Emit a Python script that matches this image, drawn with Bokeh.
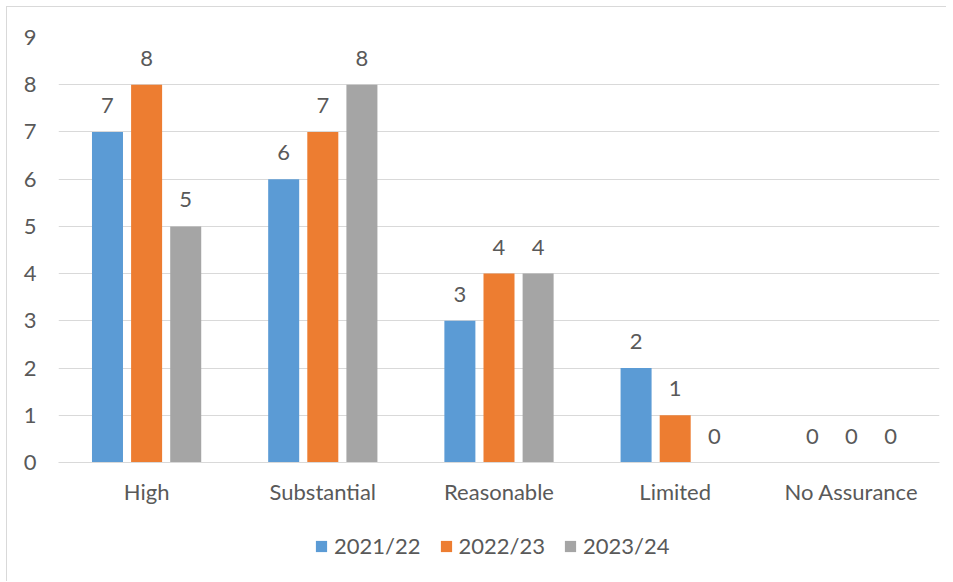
from bokeh.plotting import figure
from bokeh.models import ColumnDataSource, FactorRange, Legend, LegendItem, Range1d, FixedTicker
from bokeh.layouts import column
from bokeh.transform import dodge
from bokeh.core.properties import value
from bokeh.embed import file_html
from bokeh.resources import INLINE

categories = ["High", "Substantial", "Reasonable", "Limited", "No Assurance"]
series_names = ["2021/22", "2022/23", "2023/24"]
v2021 = [7, 6, 3, 2, 0]
v2022 = [8, 7, 4, 1, 0]
v2023 = [5, 8, 4, 0, 0]
y_ticks = [0, 1, 2, 3, 4, 5, 6, 7, 8, 9]

colors = ["#5B9BD5", "#ED7D31", "#A5A5A5"]
offsets = [-0.222, 0.0, 0.222]
FONT = "Lato"
TXT = "#595959"
FS = "22px"
BORDER = "1px solid #D9D9D9"

p = figure(x_range=FactorRange(*categories, range_padding=0), y_range=Range1d(0, 9),
           frame_width=880, frame_height=424,
           output_backend="svg", toolbar_location=None,
           min_border_left=51, min_border_top=30, min_border_right=8, min_border_bottom=50)
p.margin = (6, 0, 0, 6)
p.styles = {"border-left": BORDER, "border-top": BORDER}
p.outline_line_color = None
p.xgrid.grid_line_color = None
p.ygrid.grid_line_color = "#D9D9D9"
p.ygrid.grid_line_width = 1
p.yaxis.ticker = FixedTicker(ticks=y_ticks)
p.yaxis.axis_line_color = None
p.yaxis.major_tick_line_color = None
p.yaxis.minor_tick_line_color = None
p.yaxis.major_tick_out = 0
p.yaxis.minor_tick_out = 0
p.yaxis.major_label_standoff = 22
p.yaxis.major_label_text_font = FONT
p.yaxis.major_label_text_font_size = FS
p.yaxis.major_label_text_color = TXT
p.xaxis.axis_line_color = "#D9D9D9"
p.xaxis.major_tick_line_color = None
p.xaxis.minor_tick_line_color = None
p.xaxis.major_tick_out = 0
p.xaxis.minor_tick_out = 0
p.xaxis.major_label_standoff = 15
p.xaxis.major_label_text_font = FONT
p.xaxis.major_label_text_font_size = FS
p.xaxis.major_label_text_color = TXT

for name, vals, col, off in zip(series_names, [v2021, v2022, v2023], colors, offsets):
    src = ColumnDataSource(dict(cat=categories, val=vals, lab=[str(v) for v in vals]))
    p.vbar(x=dodge("cat", off, range=p.x_range), top="val", width=0.176, bottom=0,
           source=src, fill_color=col, line_color=None)
    p.text(x=dodge("cat", off, range=p.x_range), y="val", text="lab", source=src,
           text_align="center", text_baseline="bottom", y_offset=-19,
           text_font=value(FONT), text_font_size=FS, text_color=TXT)

# legend strip below the chart (zero-height proxy bars supply the legend swatches)
p2 = figure(x_range=Range1d(0, 1), y_range=Range1d(0, 1), frame_width=940, frame_height=70,
            output_backend="svg", toolbar_location=None, x_axis_type=None, y_axis_type=None,
            min_border=0)
p2.margin = (0, 0, 0, 6)
p2.styles = {"border-left": BORDER}
p2.outline_line_color = None
p2.xgrid.visible = False
p2.ygrid.visible = False
items = []
for name, col in zip(series_names, colors):
    r = p2.vbar(x=[0.5], top=[0], bottom=[0], width=0.0, fill_color=col, line_color=None)
    items.append(LegendItem(label=name, renderers=[r]))
legend = Legend(items=items, orientation="horizontal", location=(307, 22),
                glyph_width=14, glyph_height=14, label_standoff=6, spacing=18,
                label_text_font=FONT, label_text_font_size=FS, label_text_color=TXT,
                border_line_color=None, background_fill_alpha=0, margin=0, padding=0)
p2.add_layout(legend)

layout = column(p, p2, spacing=0)
open("out.html", "w").write(file_html(layout, INLINE))
